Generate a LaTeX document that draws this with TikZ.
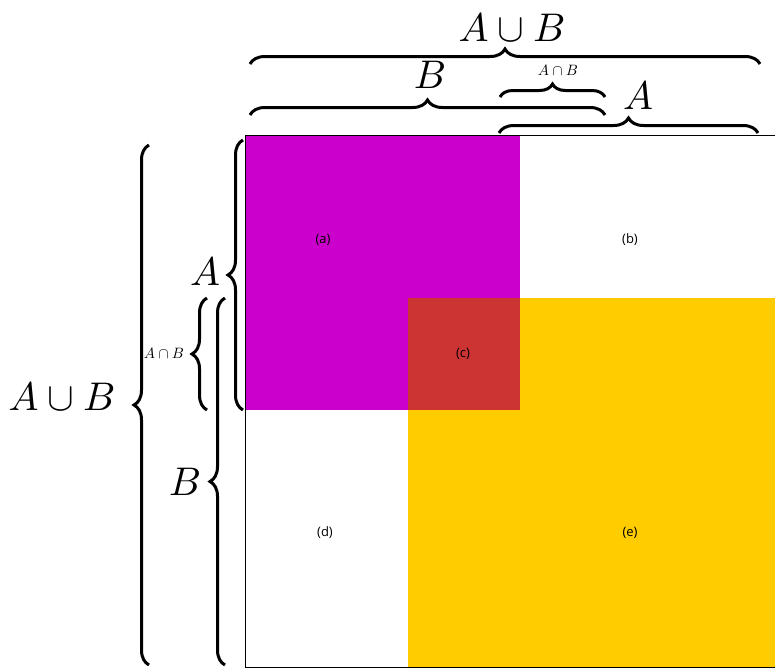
\documentclass[tikz,border=0pt]{standalone}
\usepackage{fontspec}
\newfontfamily\labelfont{Open Sans}
\usetikzlibrary{decorations.pathreplacing}
\definecolor{setA}{HTML}{CC00CC}
\definecolor{setB}{HTML}{FFCC00}
\definecolor{setAB}{HTML}{CC3333}
\tikzset{
  cell/.style={font=\labelfont, scale=1.3, inner sep=0pt},
  bigset/.style={scale=4, inner sep=0pt},
  smallset/.style={scale=1.5, inner sep=0pt},
  setbrace/.style={decorate, decoration={brace, amplitude=#1}, line width=3pt},
  setbrace/.default=15pt
}
\begin{document}
\begin{tikzpicture}[x=1pt, y=1pt]
  \useasboundingbox (0,0) rectangle (775,-667);

  % coloured regions of the square
  \fill[setA] (245,-135) rectangle (520,-410);
  \fill[setB] (408,-298) rectangle (775,-667);
  \fill[setAB] (408,-298) rectangle (520,-410);
  \draw[line width=1pt] (245,-135) rectangle (775,-667);

  % cell labels
  \node[cell] (a) at (323,-240) {(a)};
  \node[cell] (b) at (630,-240) {(b)};
  \node[cell] (c) at (463,-354) {(c)};
  \node[cell] (d) at (325,-533) {(d)};
  \node[cell] (e) at (630,-533) {(e)};

  % braces above the square
  \coordinate (tU1) at (250,-64);  \coordinate (tU2) at (760,-64);
  \coordinate (tB1) at (250,-115); \coordinate (tB2) at (605,-115);
  \coordinate (tI1) at (500,-97);  \coordinate (tI2) at (605,-97);
  \coordinate (tA1) at (499,-133); \coordinate (tA2) at (758,-133);
  \draw[setbrace] (tU1) -- (tU2);
  \draw[setbrace] (tB1) -- (tB2);
  \draw[setbrace=13pt] (tI1) -- (tI2);
  \draw[setbrace] (tA1) -- (tA2);
  \node[bigset] (lU) at (512,-28) {$A\cup B$};
  \node[bigset] (lB) at (430,-75) {$B$};
  \node[smallset] (lI) at (558,-70) {$A\cap B$};
  \node[bigset] (lA) at (638,-96) {$A$};

  % braces left of the square
  \coordinate (sU1) at (149,-665); \coordinate (sU2) at (149,-145);
  \coordinate (sA1) at (243,-410); \coordinate (sA2) at (243,-140);
  \coordinate (sI1) at (207,-410); \coordinate (sI2) at (207,-298);
  \coordinate (sB1) at (225,-665); \coordinate (sB2) at (225,-298);
  \draw[setbrace] (sU1) -- (sU2);
  \draw[setbrace] (sA1) -- (sA2);
  \draw[setbrace] (sI1) -- (sI2);
  \draw[setbrace] (sB1) -- (sB2);
  \node[bigset] (mU) at (62,-397) {$A\cup B$};
  \node[bigset] (mA) at (205,-272) {$A$};
  \node[smallset] (mI) at (164,-353) {$A\cap B$};
  \node[bigset] (mB) at (185,-482) {$B$};
\end{tikzpicture}
\end{document}
